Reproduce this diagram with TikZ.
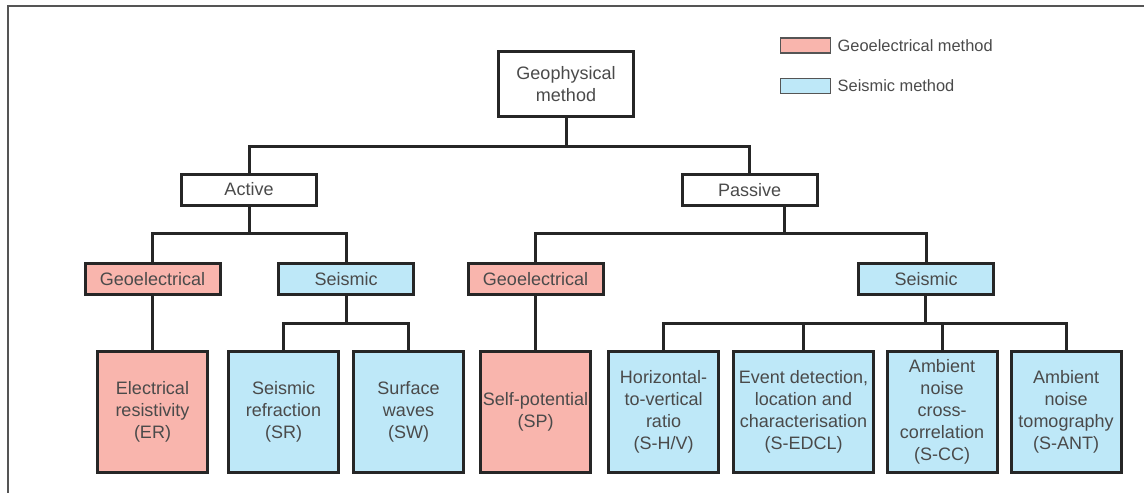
\documentclass[tikz,border=0pt]{standalone}
\usepackage{fontspec}
\setmainfont{Liberation Sans}
\usetikzlibrary{positioning}

\definecolor{geopink}{HTML}{F9B5AD}
\definecolor{seisblue}{HTML}{BEE8F8}
\definecolor{boxline}{HTML}{262626}
\definecolor{txtgray}{HTML}{4A4A4A}
\definecolor{framegray}{HTML}{555555}

\tikzset{
	box/.style={draw=boxline, line width=1.5pt, align=center, inner sep=1pt,
		text=txtgray, font=\fontsize{9}{11}\selectfont},
	midbox/.style={box, minimum width=67.5pt, minimum height=15.5pt},
	leafbox/.style={box, minimum width=55pt, minimum height=60.5pt},
	geofill/.style={fill=geopink},
	seisfill/.style={fill=seisblue},
	link/.style={draw=boxline, line width=1.5pt},
	keybox/.style={draw=framegray, line width=0.8pt, minimum width=25pt, minimum height=7.5pt, inner sep=0pt},
	keytext/.style={anchor=west, text=txtgray, inner sep=0pt, font=\fontsize{8.2}{10}\selectfont}
}

\begin{document}
\begin{tikzpicture}[x=0.5pt, y=-0.5pt]
	
	\useasboundingbox (0,0) rectangle (1144,493);
	
	% Cornice (solo lato superiore e sinistro)
	\draw[framegray, line width=1pt] (1144,6) -- (8,6) -- (8,493);
	
	% Legenda
	\node[keybox, geofill] (keygeo) at (805.5,45.5) {};
	\node[keytext, right=3pt of keygeo] (keygeotxt) {Geoelectrical method};
	\node[keybox, seisfill] (keyseis) at (805.5,86) {};
	\node[keytext, right=3pt of keyseis] (keyseistxt) {Seismic method};
	
	% Radice
	\node[box, minimum width=67.5pt, minimum height=32.5pt] (geo) at (566,84) {Geophysical\\method};
	
	% Attivo / passivo
	\node[midbox] (active) at (249,189.5) {Active};
	\node[midbox] (passive) at (749.5,190) {Passive};
	
	% Famiglie di metodi
	\node[midbox, geofill] (geoact) at (152.5,279) {Geoelectrical};
	\node[midbox, seisfill] (seisact) at (346,279) {Seismic};
	\node[midbox, geofill] (geopas) at (535.5,279) {Geoelectrical};
	\node[midbox, seisfill] (seispas) at (926,279) {Seismic};
	
	% Metodi (foglie)
	\node[leafbox, geofill] (er) at (152.5,412) {Electrical\\resistivity\\(ER)};
	\node[leafbox, seisfill] (sr) at (283.5,412) {Seismic\\refraction\\(SR)};
	\node[leafbox, seisfill] (sw) at (408.5,412) {Surface\\waves\\(SW)};
	\node[leafbox, geofill] (sp) at (535.5,412) {Self-potential\\(SP)};
	\node[leafbox, seisfill] (shv) at (663.5,412) {Horizontal-\\to-vertical\\ratio\\(S-H/V)};
	\node[leafbox, seisfill, minimum width=70pt] (sedcl) at (803.5,412) {Event detection,\\location and\\characterisation\\(S-EDCL)};
	\node[leafbox, seisfill] (scc) at (942,412) {Ambient\\noise\\cross-\\correlation\\(S-CC)};
	\node[leafbox, seisfill] (sant) at (1066,412) {Ambient\\noise\\tomography\\(S-ANT)};
	
	% Punti di giunzione
	\coordinate (jroot) at (566,146);
	\coordinate (jact) at (249,233);
	\coordinate (jpas) at (784,233);
	\coordinate (jseisa) at (346,323);
	\coordinate (jseisp) at (925,323);
	
	% Collegamenti
	\draw[link] (geo) -- (jroot);
	\draw[link] (active) |- (jroot) -| (passive);
	
	\draw[link] (active) -- (jact);
	\draw[link] (geoact) |- (jact) -| (seisact);
	\draw[link] (geoact) -- (er);
	\draw[link] (seisact) -- (jseisa);
	\draw[link] (sr) |- (jseisa) -| (sw);
	
	\draw[link] (passive.south -| jpas) -- (jpas);
	\draw[link] (geopas) |- (jpas) -| (seispas);
	\draw[link] (geopas) -- (sp);
	\draw[link] (seispas.south -| jseisp) -- (jseisp);
	\draw[link] (shv) |- (jseisp) -| (sant);
	\draw[link] (sedcl.north) -- (sedcl.north |- jseisp);
	\draw[link] (scc.north) -- (scc.north |- jseisp);
	
\end{tikzpicture}
\end{document}
